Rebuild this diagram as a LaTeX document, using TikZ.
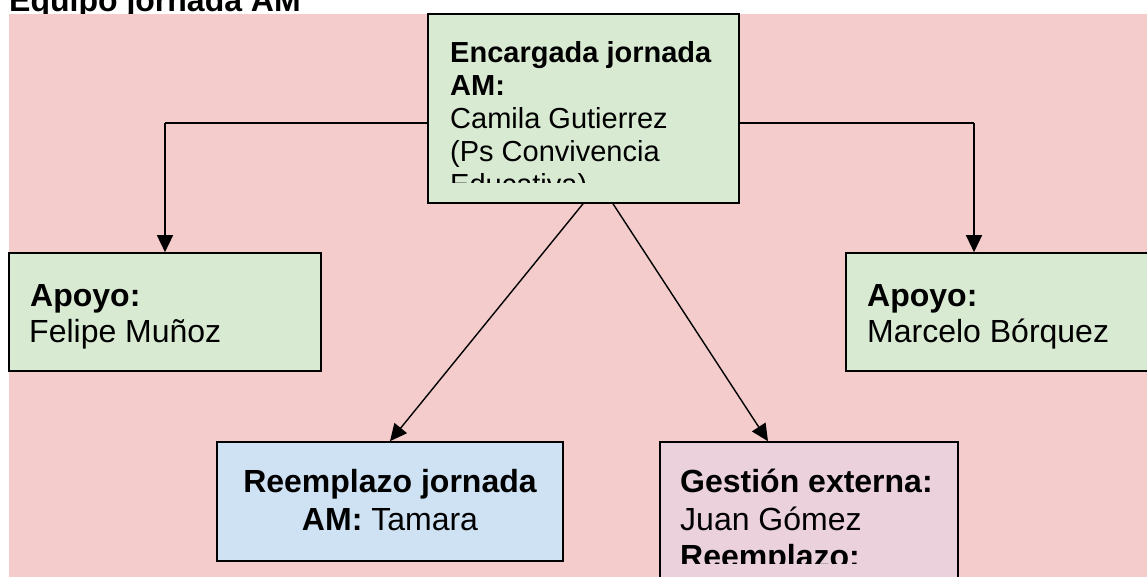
\documentclass[tikz,border=0pt]{standalone}
\usepackage{fontspec}
\setmainfont{Liberation Sans}
\usetikzlibrary{arrows.meta}
\definecolor{bgpink}{HTML}{F4CCCC}
\definecolor{boxgreen}{HTML}{D9EAD3}
\definecolor{boxblue}{HTML}{CFE2F3}
\definecolor{boxmauve}{HTML}{EAD1DC}
\tikzset{
  box/.style={draw=black, line width=1.6pt, minimum width=#1, inner sep=0pt, rectangle},
  txt/.style={inner sep=0pt, anchor=base west, font=\fontsize{32}{37}\selectfont},
  txtsm/.style={inner sep=0pt, anchor=base west, font=\fontsize{29}{33}\selectfont},
  txtc/.style={inner sep=0pt, anchor=base, font=\fontsize{32}{37}\selectfont},
  conn/.style={line width=1.4pt, -{Triangle[length=17pt,width=16pt]}},
  plain/.style={line width=1.4pt}
}
\begin{document}
\begin{tikzpicture}[x=1pt,y=-1pt]
\useasboundingbox (0,0) rectangle (1147,577);
% title
\node[inner sep=0pt, anchor=base west, font=\fontsize{32}{37}\selectfont\bfseries] (title) at (9,12) {Equipo jornada AM};
% background
\fill[bgpink] (9,14) rectangle (1147,577);
% boxes
\node[box=311pt, minimum height=189pt, fill=boxgreen] (top) at (583.5,108.5) {};
\node[box=312pt, minimum height=118pt, fill=boxgreen] (left) at (165,312) {};
\node[box=312pt, minimum height=118pt, fill=boxgreen] (right) at (1002,312) {};
\node[box=346pt, minimum height=119pt, fill=boxblue] (bl) at (390,501.5) {};
\node[box=298pt, minimum height=160pt, fill=boxmauve] (br) at (809,522) {};
% text top box (clipped)
\begin{scope}
\clip (428,14) rectangle (739,183);
\node[txtsm, font=\fontsize{29}{33}\selectfont\bfseries] (t1) at (450,63) {Encargada jornada};
\node[txtsm, font=\fontsize{29}{33}\selectfont\bfseries] (t2) at (450,96) {AM:};
\node[txtsm] (t3) at (450,129) {Camila Gutierrez};
\node[txtsm] (t4) at (450,162) {(Ps Convivencia};
\node[txtsm] (t5) at (450,195) {Educativa)};
\end{scope}
% left box text
\node[txt, font=\fontsize{32}{37}\selectfont\bfseries] (l1) at (30,306) {Apoyo:};
\node[txt] (l2) at (29,342) {Felipe Muñoz};
% right box text
\node[txt, font=\fontsize{32}{37}\selectfont\bfseries] (r1) at (867,306) {Apoyo:};
\node[txt] (r2) at (867,342) {Marcelo Bórquez};
% bottom left text
\node[txtc, font=\fontsize{32}{37}\selectfont\bfseries] (b1) at (390,492) {Reemplazo jornada};
\node[txtc] (b2) at (390,530) {\textbf{AM:} Tamara};
% bottom right text (clipped)
\begin{scope}
\clip (660,442) rectangle (958,563);
\node[txt, font=\fontsize{32}{37}\selectfont\bfseries] (g1) at (680,492) {Gestión externa:};
\node[txt] (g2) at (680,530) {Juan Gómez};
\node[txt, font=\fontsize{32}{37}\selectfont\bfseries] (g3) at (680,567) {Reemplazo:};
\end{scope}
% connectors
\coordinate (lc) at (165,123);
\coordinate (rc) at (974,123);
\draw[plain] (top.west |- lc) -- (lc);
\draw[conn] (lc) -- (left.north);
\draw[plain] (top.east |- rc) -- (rc);
\draw[conn] (rc) -- (rc |- right.north);
\draw[conn] ([xshift=-0.5pt]top.south) -- (bl.north);
\draw[conn] ([xshift=29.5pt]top.south) -- ([xshift=-41pt]br.north);
\end{tikzpicture}
\end{document}
